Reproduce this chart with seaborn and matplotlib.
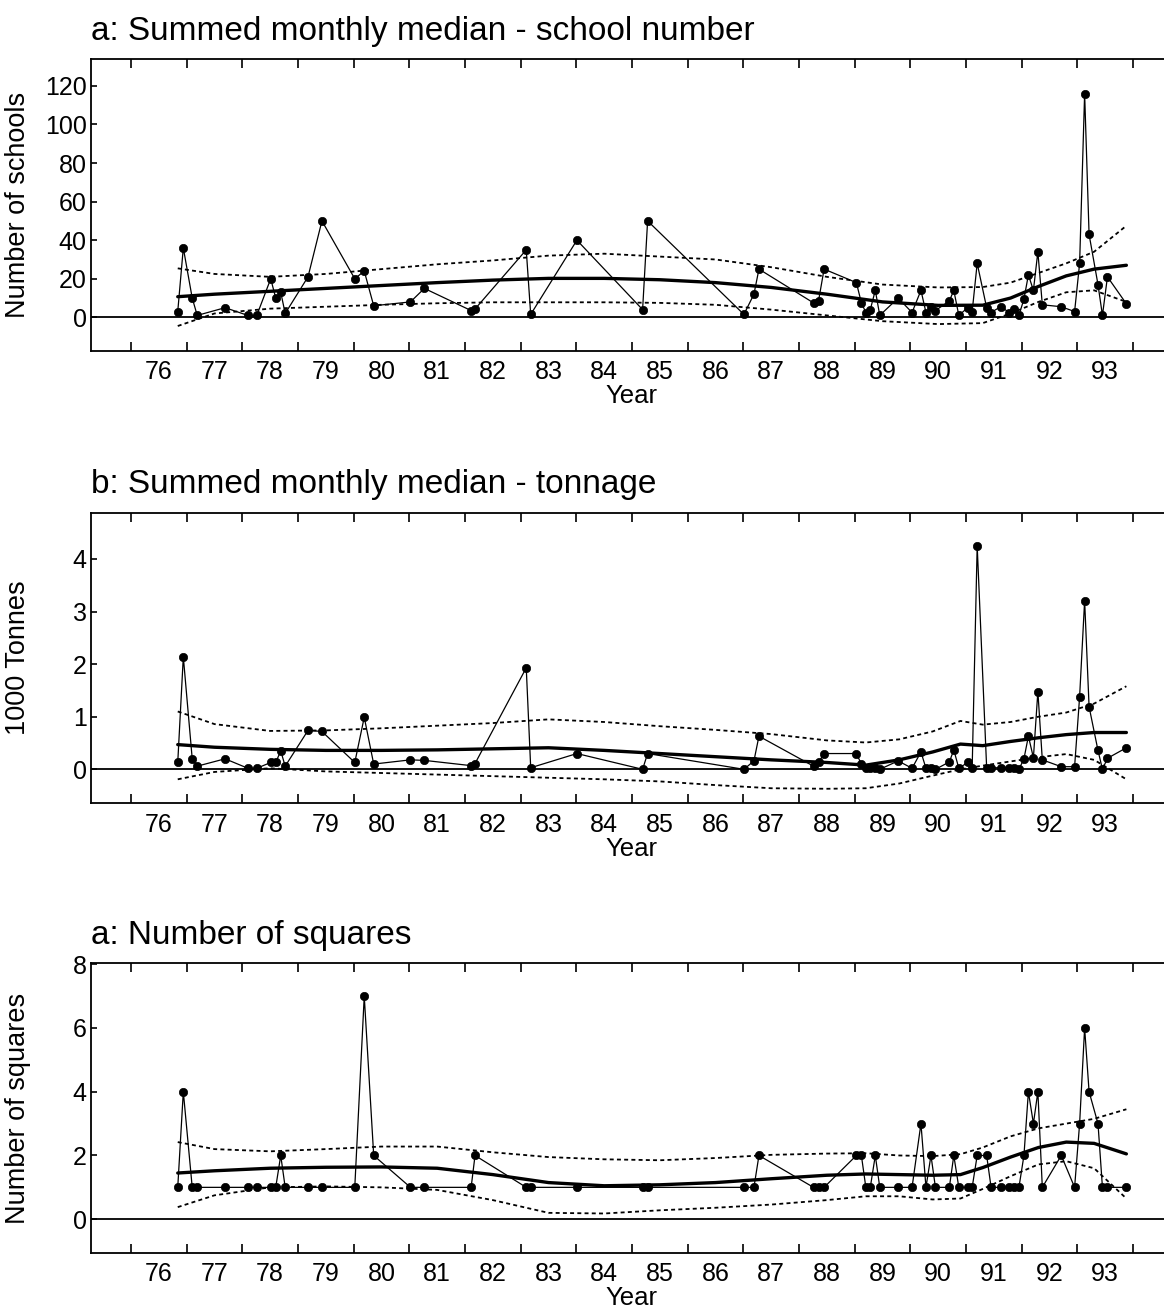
import matplotlib
matplotlib.use('Agg')
import matplotlib.pyplot as plt
import seaborn as sns

# sampling times (two-digit decimal year), shared by the three panels
years = [76.84, 76.94, 77.10, 77.19, 77.69, 78.10, 78.26, 78.51, 78.60, 78.69,
         78.77, 79.18, 79.43, 80.02, 80.19, 80.36, 81.02, 81.27, 82.11, 82.18,
         83.10, 83.18, 84.01, 85.19, 85.28, 87.01, 87.19, 87.28, 88.26, 88.35,
         88.45, 89.03, 89.12, 89.20, 89.28, 89.37, 89.45, 89.78, 90.03, 90.19,
         90.28, 90.37, 90.45, 90.70, 90.78, 90.87, 91.03, 91.11, 91.20, 91.37,
         91.45, 91.62, 91.78, 91.86, 91.95, 92.04, 92.12, 92.21, 92.29, 92.37,
         92.71, 92.95, 93.04, 93.13, 93.21, 93.37, 93.45, 93.54, 93.88]

schools = [3, 36, 10, 1, 5, 1, 1, 20, 10, 13,
           2, 21, 50, 20, 24, 6, 8, 15, 3.5, 4.3,
           35, 1.5, 40, 4, 50, 1.5, 12, 25, 7.5, 8.5,
           25, 18, 7.5, 2.5, 4, 14, 1, 10, 2.5, 14,
           2.5, 5.5, 3.5, 8.5, 14, 1, 5, 3, 28, 5,
           2.5, 5.5, 2.5, 4.5, 1, 9.5, 22, 14, 34, 6.5,
           5.5, 3, 28, 116, 43, 17, 1, 21, 7]

tonnes = [0.13, 2.14, 0.2, 0.06, 0.2, 0.02, 0.02, 0.13, 0.13, 0.35,
          0.06, 0.74, 0.72, 0.13, 0.99, 0.1, 0.18, 0.17, 0.07, 0.11,
          1.93, 0.03, 0.3, 0.0, 0.3, 0.0, 0.16, 0.63, 0.06, 0.13,
          0.3, 0.3, 0.1, 0.03, 0.03, 0.03, 0.0, 0.16, 0.02, 0.33,
          0.02, 0.02, 0.0, 0.14, 0.37, 0.02, 0.13, 0.03, 4.25, 0.03,
          0.03, 0.03, 0.02, 0.02, 0.0, 0.2, 0.63, 0.22, 1.48, 0.18,
          0.05, 0.05, 1.38, 3.21, 1.19, 0.36, 0.0, 0.21, 0.41]

squares = [1, 4, 1, 1, 1, 1, 1, 1, 1, 2,
           1, 1, 1, 1, 7, 2, 1, 1, 1, 2,
           1, 1, 1, 1, 1, 1, 1, 2, 1, 1,
           1, 2, 2, 1, 1, 2, 1, 1, 1, 3,
           1, 2, 1, 1, 2, 1, 1, 1, 2, 2,
           1, 1, 1, 1, 1, 2, 4, 3, 4, 1,
           2, 1, 3, 6, 4, 3, 1, 1, 1]

# smoothed trend and its upper / lower bands, read at knots
knots_a = [76.84, 77.5, 78.5, 79.5, 80.5, 81.5, 82.5, 83.5, 84.5, 85.5, 86.5,
           87.5, 88.5, 89.5, 90.5, 91.3, 91.8, 92.3, 92.8, 93.3, 93.88]
trend_a = [10.7, 12, 13.5, 15, 16.5, 18, 19.3, 20.2, 20.2, 19.5, 18,
           15.5, 12, 8, 6.2, 6.3, 10, 16, 21.5, 25, 27]
upper_a = [25.4, 22.5, 21, 22.5, 25, 27.5, 29.5, 32, 33, 31.5, 30,
           26, 21, 17, 15.5, 15.7, 18, 23, 28, 34, 47.5]
lower_a = [-4.5, 2, 4.5, 5.5, 6.5, 7.3, 7.8, 7.8, 7.8, 7.5, 6.5,
           4, 1, -2, -3.5, -3, 2, 8, 13, 14, 8]

knots_bc = [76.84, 77.5, 78.5, 79.5, 80.5, 81.5, 82.5, 83.5, 84.5, 85.5, 86.5,
            87.5, 88.5, 89.2, 89.8, 90.4, 90.9, 91.3, 91.8, 92.3, 92.8, 93.3, 93.88]
trend_b = [0.47, 0.42, 0.38, 0.36, 0.36, 0.37, 0.39, 0.41, 0.36, 0.3, 0.24,
           0.18, 0.13, 0.08, 0.18, 0.33, 0.48, 0.45, 0.53, 0.6, 0.66, 0.7, 0.7]
upper_b = [1.1, 0.86, 0.73, 0.74, 0.78, 0.83, 0.88, 0.95, 0.9, 0.82, 0.75,
           0.67, 0.55, 0.51, 0.57, 0.72, 0.92, 0.85, 0.9, 1.0, 1.08, 1.25, 1.58]
lower_b = [-0.19, -0.05, 0.02, -0.04, -0.07, -0.1, -0.13, -0.16, -0.19, -0.23, -0.3,
           -0.36, -0.37, -0.36, -0.27, -0.12, 0.0, 0.07, 0.15, 0.23, 0.29, 0.18, -0.19]
trend_c = [1.45, 1.52, 1.6, 1.63, 1.64, 1.6, 1.4, 1.15, 1.05, 1.08, 1.15,
           1.27, 1.38, 1.42, 1.4, 1.38, 1.4, 1.62, 1.95, 2.25, 2.42, 2.38, 2.05]
upper_c = [2.42, 2.2, 2.13, 2.2, 2.28, 2.28, 2.1, 1.95, 1.88, 1.85, 1.92,
           2.02, 2.06, 2.07, 2.0, 1.98, 2.04, 2.25, 2.6, 2.85, 3.0, 3.15, 3.45]
lower_c = [0.38, 0.75, 1.0, 1.03, 1.0, 0.92, 0.6, 0.2, 0.18, 0.28, 0.36,
           0.46, 0.6, 0.72, 0.72, 0.62, 0.65, 0.95, 1.35, 1.72, 1.82, 1.6, 0.65]

year_ticks = list(range(76, 95))
year_labels = [str(y) for y in range(76, 94)]

sns.set_theme(style='ticks')
plt.rcParams['font.family'] = ['Liberation Sans', 'DejaVu Sans']
plt.rcParams['text.color'] = 'black'
plt.rcParams['axes.labelcolor'] = 'black'
plt.rcParams['xtick.color'] = 'black'
plt.rcParams['ytick.color'] = 'black'

fig = plt.figure(figsize=(11.64, 13.12), dpi=100)

panels = [
    ('a: Summed monthly median - school number', 'Number of schools', schools,
     knots_a, trend_a, upper_a, lower_a, (-17.3, 133.8), range(0, 121, 20),
     [0.0779, 0.7327, 0.929, 0.2221]),
    ('b: Summed monthly median - tonnage', '1000 Tonnes', tonnes,
     knots_bc, trend_b, upper_b, lower_b, (-0.647, 4.88), range(0, 5),
     [0.0779, 0.3877, 0.929, 0.2215]),
    ('a: Number of squares', 'Number of squares', squares,
     knots_bc, trend_c, upper_c, lower_c, (-1.05, 8.03), range(0, 9, 2),
     [0.0779, 0.0452, 0.929, 0.2206]),
]

fs = 18
for title, ylab, vals, kx, trend, upper, lower, ylim, yt, pos in panels:
    ax = fig.add_axes(pos)
    ax.axhline(0, color='black', lw=1.3, zorder=1)
    sns.lineplot(x=kx, y=upper, ax=ax, color='black', lw=1.3, linestyle=(0, (2.2, 1.8)))
    sns.lineplot(x=kx, y=lower, ax=ax, color='black', lw=1.3, linestyle=(0, (2.2, 1.8)))
    sns.lineplot(x=kx, y=trend, ax=ax, color='black', lw=2.4)
    sns.lineplot(x=years, y=vals, ax=ax, color='black', lw=0.9, marker='o',
                 markersize=6, markeredgecolor='black', markeredgewidth=0.5)

    ax.set_xlim(75.276, 94.70)
    ax.set_ylim(*ylim)
    ax.set_yticks(list(yt))
    ax.set_xticks(year_ticks)
    ax.set_xticklabels([])
    ax.set_xticks([y + 0.5 for y in range(76, 94)], minor=True)
    ax.set_xticklabels(year_labels, minor=True)
    ax.tick_params(axis='x', which='major', direction='in', length=6.5, width=1.2,
                   top=True, bottom=True, labelbottom=False, colors='black')
    ax.tick_params(axis='x', which='minor', length=0, pad=7, labelsize=fs,
                   labelbottom=True, colors='black')
    ax.tick_params(axis='y', direction='in', length=4, width=1.2, pad=3,
                   labelsize=fs, right=False, colors='black')
    for sp in ax.spines.values():
        sp.set_linewidth(1.3)
        sp.set_color('black')

    ax.set_title(title, loc='left', fontsize=24, pad=14, color='black')
    ax.set_xlabel('Year', fontsize=fs + 0.5, labelpad=0, color='black')
    ax.set_ylabel(ylab, fontsize=19.5, color='black')
    ax.yaxis.set_label_coords(-0.055, 0.5)

fig.savefig('out.png', dpi=100, facecolor='white')
